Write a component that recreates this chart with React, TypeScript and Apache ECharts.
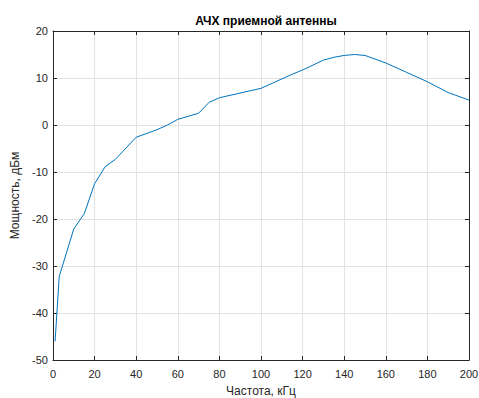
import React, { useEffect, useRef } from "react";
import * as echarts from "echarts";

const freqs = [1, 3, 10, 15, 20, 25, 30, 40, 50, 55, 60, 70, 75, 80, 90, 100, 110, 115, 120, 130, 135, 140, 145, 150, 160, 170, 180, 190, 200];
const power = [-46, -32.2, -22.1, -18.9, -12.5, -8.9, -7.3, -2.6, -1.0, 0.0, 1.2, 2.5, 4.8, 5.8, 6.8, 7.8, 9.8, 10.8, 11.7, 13.8, 14.4, 14.8, 15.0, 14.8, 13.2, 11.2, 9.2, 6.9, 5.3];

const titleText = "АЧХ приемной антенны";
const xName = "Частота, кГц";
const yName = "Мощность, дБм";

const FONT = "Liberation Sans, Arial, Helvetica, sans-serif";
const AXC = "#262626";

export default function App() {
  const ref = useRef<HTMLDivElement>(null);
  useEffect(() => {
    if (!ref.current) return;
    const chart = echarts.init(ref.current, undefined, { renderer: "svg" });
    const common = {
      axisLine: { show: true, onZero: false, lineStyle: { color: AXC, width: 1 } },
      axisTick: { show: true, inside: true, length: 4, lineStyle: { color: AXC, width: 1 } },
    };
    chart.setOption({
      animation: false,
      backgroundColor: "#ffffff",
      title: {
        text: titleText,
        left: 261,
        textAlign: "center",
        top: 10,
        textStyle: { fontFamily: FONT, fontSize: 12, fontWeight: "bold", color: "#000" },
      },
      grid: { left: 53, top: 31, width: 416, height: 329, containLabel: false, outerBoundsMode: "none" },
      xAxis: [
        {
          type: "value",
          min: 0,
          max: 200,
          interval: 20,
          position: "bottom",
          ...common,
          axisLabel: { color: AXC, fontFamily: FONT, fontSize: 11, margin: 8 },
          splitLine: { show: true, lineStyle: { color: "#e3e3e3", width: 1 } },
          name: xName,
          nameLocation: "middle",
          nameGap: 25,
          nameTextStyle: { color: AXC, fontFamily: FONT, fontSize: 12 },
        },
        {
          type: "value",
          min: 0,
          max: 200,
          interval: 20,
          position: "top",
          ...common,
          axisLabel: { show: false },
          splitLine: { show: false },
        },
      ],
      yAxis: [
        {
          type: "value",
          min: -50,
          max: 20,
          interval: 10,
          position: "left",
          ...common,
          axisLabel: { color: AXC, fontFamily: FONT, fontSize: 11, margin: 5 },
          splitLine: { show: true, lineStyle: { color: "#e3e3e3", width: 1 } },
          name: yName,
          nameLocation: "middle",
          nameGap: 27,
          nameTextStyle: { color: AXC, fontFamily: FONT, fontSize: 12 },
        },
        {
          type: "value",
          min: -50,
          max: 20,
          interval: 10,
          position: "right",
          ...common,
          axisLabel: { show: false },
          splitLine: { show: false },
        },
      ],
      series: [
        {
          type: "line",
          data: freqs.map((f, i) => [f, power[i]]),
          showSymbol: false,
          symbol: "none",
          lineStyle: { color: "#0072BD", width: 1 },
          xAxisIndex: 0,
          yAxisIndex: 0,
        },
      ],
    });
    return () => chart.dispose();
  }, []);
  return (
    <div
      ref={ref}
      style={{ position: "fixed", left: 0, top: 0, width: 479, height: 398, background: "#fff" }}
    />
  );
}
